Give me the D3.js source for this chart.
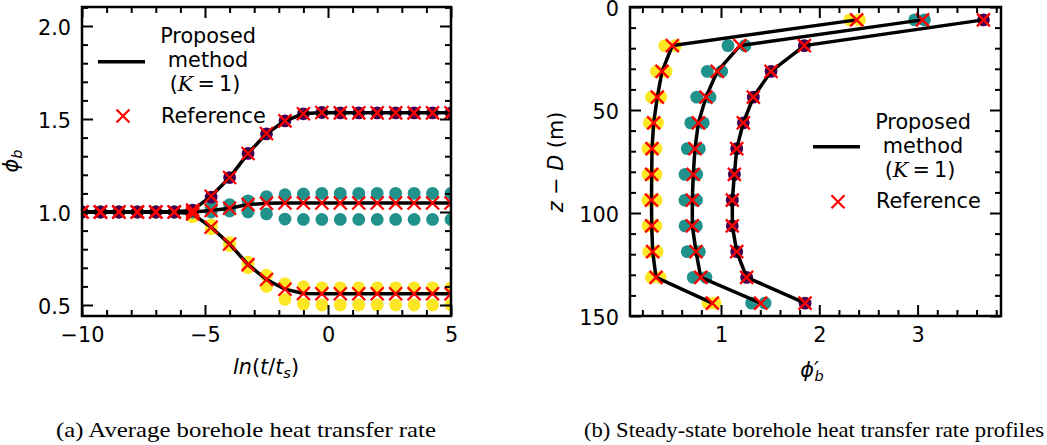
<!DOCTYPE html>
<html>
<head>
<meta charset="utf-8">
<script src="https://cdnjs.cloudflare.com/ajax/libs/d3/7.8.5/d3.min.js"></script>
<style>
  body { margin: 0; background: #fff; }
  svg { display: block; }
  text { font-family: "DejaVu Sans", sans-serif; fill: #000; }
  .caption { font-family: "Liberation Serif", serif; }
</style>
</head>
<body>
<div class="chart"></div>
<script>
/* Data
============================================= */
// (a) average borehole heat transfer rate vs ln(t/ts)
const lnTime = [-10, -9.25, -8.5, -7.75, -7, -6.25, -5.5, -4.75, -4, -3.25, -2.5,
                -1.75, -1, -0.25, 0.5, 1.25, 2, 2.75, 3.5, 4.25, 5];

const purpleLine = [1.0, 1.0, 1.0, 1.0, 1.0, 1.0, 1.01, 1.085, 1.185, 1.315, 1.422,
                    1.49, 1.528, 1.535, 1.533, 1.533, 1.533, 1.533, 1.533, 1.533, 1.533];
const purpleDots = [1.0, 1.0, 1.0, 1.0, 1.0, 1.0, 1.01, 1.08, 1.185, 1.315, 1.42,
                    1.49, 1.528, 1.535, 1.533, 1.533, 1.533, 1.533, 1.533, 1.533, 1.533];

const tealLine = [1.0, 1.0, 1.0, 1.0, 1.0, 1.0, 1.0, 1.008, 1.02, 1.04, 1.047,
                  1.048, 1.048, 1.048, 1.048, 1.048, 1.048, 1.048, 1.048, 1.048, 1.048];
const tealDotsHigh = [1.0, 1.0, 1.0, 1.0, 1.0, 1.0, 1.0, 1.03, 1.04, 1.06, 1.083,
                      1.093, 1.097, 1.1, 1.1, 1.1, 1.1, 1.1, 1.1, 1.1, 1.1];
const tealDotsLow = [1.0, 1.0, 1.0, 1.0, 1.0, 1.0, 1.0, 1.0, 1.005, 1.0, 0.99,
                     0.962, 0.96, 0.96, 0.96, 0.96, 0.96, 0.96, 0.96, 0.96, 0.96];

const yellowLine = [1.0, 1.0, 1.0, 1.0, 1.0, 1.0, 0.99, 0.918, 0.828, 0.717, 0.637,
                    0.585, 0.562, 0.56, 0.56, 0.56, 0.56, 0.56, 0.56, 0.56, 0.56];
const yellowDotsHigh = [1.0, 1.0, 1.0, 1.0, 1.0, 1.0, 0.985, 0.93, 0.835, 0.73, 0.66,
                        0.615, 0.598, 0.592, 0.592, 0.592, 0.592, 0.592, 0.592, 0.592, 0.592];
const yellowDotsLow = [1.0, 1.0, 1.0, 1.0, 1.0, 1.0, 0.975, 0.91, 0.82, 0.70, 0.60,
                       0.53, 0.505, 0.50, 0.50, 0.50, 0.50, 0.50, 0.50, 0.50, 0.50];

// (b) steady-state profiles vs depth z - D (m)
const depth = [6.25, 18.75, 31.25, 43.75, 56.25, 68.75, 81.25, 93.75, 106.25, 118.75, 131.25, 143.75];

const purpleProfile = [3.67, 1.848, 1.509, 1.329, 1.227, 1.16, 1.136, 1.115, 1.115, 1.16, 1.261, 1.855];

const tealProfile = [3.05, 1.193, 0.962, 0.847, 0.77, 0.735, 0.718, 0.708, 0.708, 0.746, 0.794, 1.404];
const tealProfileLow = [2.97, 1.071, 0.861, 0.753, 0.692, 0.657, 0.634, 0.634, 0.634, 0.657, 0.718, 1.312];
const tealProfileHigh = [3.07, 1.244, 1.007, 0.888, 0.82, 0.78, 0.753, 0.75, 0.75, 0.78, 0.847, 1.448];

const yellowProfile = [2.38, 0.505, 0.40, 0.352, 0.315, 0.298, 0.295, 0.293, 0.295, 0.305, 0.339, 0.912];
const yellowProfileLow = [2.31, 0.428, 0.344, 0.293, 0.27, 0.257, 0.257, 0.257, 0.257, 0.265, 0.293, 0.868];
const yellowProfileHigh = [2.41, 0.537, 0.442, 0.385, 0.354, 0.339, 0.339, 0.339, 0.339, 0.35, 0.381, 0.939];

// ticks
const ticksAxMajor = [-10, -5, 0, 5];
const ticksAxMinor = [-9, -8, -7, -6, -4, -3, -2, -1, 1, 2, 3, 4];
const ticksAyMajor = [0.5, 1.0, 1.5, 2.0];
const ticksAyMinor = [0.6, 0.7, 0.8, 0.9, 1.1, 1.2, 1.3, 1.4, 1.6, 1.7, 1.8, 1.9, 2.1];
const ticksBxMajor = [1, 2, 3];
const ticksBxMinor = [0.2, 0.4, 0.6, 0.8, 1.2, 1.4, 1.6, 1.8, 2.2, 2.4, 2.6, 2.8, 3.2, 3.4, 3.6, 3.8];
const ticksByMajor = [0, 50, 100, 150];
const ticksByMinor = [10, 20, 30, 40, 60, 70, 80, 90, 110, 120, 130, 140];

/* Constants
============================================= */
const SVG_WIDTH = 1047;
const SVG_HEIGHT = 445;
const FONT = 20.8;
const PURPLE = "#440154";
const TEAL = "#21918c";
const YELLOW = "#fde725";
const RED = "#ff0000";
const DOT_R = 6.4;
const CROSS = "M-6.5,-6.5L6.5,6.5M-6.5,6.5L6.5,-6.5";

var svg = d3.select(".chart")
    .append("svg")
    .attr("width", SVG_WIDTH)
    .attr("height", SVG_HEIGHT);

svg.append("rect")
    .attr("width", SVG_WIDTH)
    .attr("height", SVG_HEIGHT)
    .attr("fill", "#fff");

/* Functions
============================================= */

// frame with inward major/minor ticks on all four sides
function drawFrame(g, x, y, xMaj, xMin, yMaj, yMin, xFmt, yFmt) {
    var w = x.range()[1] - x.range()[0];
    var h = Math.abs(y.range()[0] - y.range()[1]);
    var top = Math.min(y.range()[0], y.range()[1]);
    var bottom = Math.max(y.range()[0], y.range()[1]);

    var axes = [
        [d3.axisBottom(x).tickValues(xMaj).tickSize(-11).tickPadding(11).tickFormat(xFmt), `translate(0,${bottom})`],
        [d3.axisBottom(x).tickValues(xMin).tickSize(-6).tickFormat(""), `translate(0,${bottom})`],
        [d3.axisTop(x).tickValues(xMaj).tickSize(-11).tickFormat(""), `translate(0,${top})`],
        [d3.axisTop(x).tickValues(xMin).tickSize(-6).tickFormat(""), `translate(0,${top})`],
        [d3.axisLeft(y).tickValues(yMaj).tickSize(-11).tickPadding(11).tickFormat(yFmt), `translate(${x.range()[0]},0)`],
        [d3.axisLeft(y).tickValues(yMin).tickSize(-6).tickFormat(""), `translate(${x.range()[0]},0)`],
        [d3.axisRight(y).tickValues(yMaj).tickSize(-11).tickFormat(""), `translate(${x.range()[1]},0)`],
        [d3.axisRight(y).tickValues(yMin).tickSize(-6).tickFormat(""), `translate(${x.range()[1]},0)`]
    ];

    axes.forEach(function(a, k) {
        var ax = g.append("g")
            .attr("transform", a[1])
            .call(a[0].tickSizeOuter(0));
        ax.select(".domain").remove();
        ax.selectAll("line").attr("stroke", "#000").attr("stroke-width", 2);
        ax.selectAll("text")
            .attr("fill", "#000")
            .style("font-family", "DejaVu Sans")
            .style("font-size", FONT + "px");
        if (k === 4) ax.selectAll("text").attr("dy", "0.4em");
    });

    g.append("rect")
        .attr("x", x.range()[0])
        .attr("y", top)
        .attr("width", w)
        .attr("height", h)
        .attr("fill", "none")
        .attr("stroke", "#000")
        .attr("stroke-width", 2.5);
}

function drawLegend(g, lx, ly, tx, tyTop, cy, refY) {
    g.append("line")
        .attr("x1", lx).attr("x2", lx + 47)
        .attr("y1", ly).attr("y2", ly)
        .attr("stroke", "#000")
        .attr("stroke-width", 3.5);

    var label = g.append("text")
        .attr("text-anchor", "middle")
        .style("font-size", FONT + "px");
    label.append("tspan").attr("x", tx).attr("y", tyTop).text("Proposed");
    label.append("tspan").attr("x", tx).attr("y", tyTop + 23.8).text("method");
    var l3 = label.append("tspan").attr("x", tx - 3).attr("y", tyTop + 47.6);
    l3.append("tspan").text("(");
    l3.append("tspan").style("font-style", "italic").style("font-family", "DejaVu Serif").text("K");
    l3.append("tspan").text("\u2009=\u20091)");

    g.append("path")
        .attr("d", CROSS)
        .attr("transform", `translate(${lx + 25},${cy})`)
        .attr("fill", "none")
        .attr("stroke", RED)
        .attr("stroke-width", 2.2);

    g.append("text")
        .attr("x", tx - 47)
        .attr("y", refY)
        .style("font-size", FONT + "px")
        .text("Reference");
}

/* Panel (a)
============================================= */
var xA = d3.scaleLinear().domain([-10, 5]).range([82, 451]);
var yA = d3.scaleLinear().domain([0.5, 2.0]).range([305, 26]);
// extend range to frame edges
yA.domain([yA.invert(316), yA.invert(7)]).range([316, 7]);

var gA = svg.append("g");

gA.append("clipPath").attr("id", "clipA")
    .append("rect").attr("x", 82).attr("y", 7).attr("width", 369).attr("height", 309);

var plotA = gA.append("g").attr("clip-path", "url(#clipA)");

[[yellowDotsLow, YELLOW], [yellowDotsHigh, YELLOW],
 [tealDotsLow, TEAL], [tealDotsHigh, TEAL],
 [purpleDots, PURPLE]].forEach(function(s) {
    plotA.append("g").selectAll("circle")
        .data(s[0])
        .enter()
        .append("circle")
        .attr("cx", function(d, i) { return xA(lnTime[i]); })
        .attr("cy", function(d) { return yA(d); })
        .attr("r", DOT_R)
        .attr("fill", s[1]);
});

var lineA = d3.line()
    .x(function(d, i) { return xA(lnTime[i]); })
    .y(function(d) { return yA(d); });

[purpleLine, tealLine, yellowLine].forEach(function(s) {
    plotA.append("path")
        .attr("d", lineA(s))
        .attr("fill", "none")
        .attr("stroke", "#000")
        .attr("stroke-width", 3.5);
});

[purpleLine, tealLine, yellowLine].forEach(function(s) {
    plotA.append("g").selectAll("path")
        .data(s)
        .enter()
        .append("path")
        .attr("d", CROSS)
        .attr("transform", function(d, i) { return `translate(${xA(lnTime[i])},${yA(d)})`; })
        .attr("fill", "none")
        .attr("stroke", RED)
        .attr("stroke-width", 2.2);
});

drawFrame(gA, xA, yA, ticksAxMajor, ticksAxMinor, ticksAyMajor, ticksAyMinor,
    d3.format("d"), d3.format(".1f"));

drawLegend(gA, 98, 61.7, 208, 43.3, 116, 123.3);

var xlabA = gA.append("text")
    .attr("x", 266)
    .attr("y", 374)
    .attr("text-anchor", "middle")
    .style("font-size", FONT + "px");
xlabA.append("tspan").style("font-style", "italic").text("ln");
xlabA.append("tspan").text("(");
xlabA.append("tspan").style("font-style", "italic").text("t");
xlabA.append("tspan").text("/");
xlabA.append("tspan").style("font-style", "italic").text("t");
xlabA.append("tspan").style("font-style", "italic").style("font-size", "14.5px").attr("dy", 4).text("s");
xlabA.append("tspan").attr("dy", -4).text(")");

var ylabA = gA.append("text")
    .attr("transform", "translate(18,161) rotate(-90)")
    .attr("text-anchor", "middle")
    .style("font-size", FONT + "px");
ylabA.append("tspan").style("font-style", "italic").text("\u03d5");
ylabA.append("tspan").style("font-style", "italic").style("font-size", "14.5px").attr("dy", 4).text("b");

/* Panel (b)
============================================= */
var xB = d3.scaleLinear().domain([1, 3]).range([721, 917.6]);
xB.domain([xB.invert(630), xB.invert(1001)]).range([630, 1001]);
var yB = d3.scaleLinear().domain([0, 150]).range([7, 316]);

var gB = svg.append("g");

gB.append("clipPath").attr("id", "clipB")
    .append("rect").attr("x", 630).attr("y", 7).attr("width", 371).attr("height", 309);

var plotB = gB.append("g").attr("clip-path", "url(#clipB)");

[[yellowProfileLow, YELLOW], [yellowProfileHigh, YELLOW],
 [tealProfileLow, TEAL], [tealProfileHigh, TEAL],
 [purpleProfile, PURPLE]].forEach(function(s) {
    plotB.append("g").selectAll("circle")
        .data(s[0])
        .enter()
        .append("circle")
        .attr("cx", function(d) { return xB(d); })
        .attr("cy", function(d, i) { return yB(depth[i]); })
        .attr("r", DOT_R)
        .attr("fill", s[1]);
});

var lineB = d3.line()
    .x(function(d) { return xB(d); })
    .y(function(d, i) { return yB(depth[i]); });

[purpleProfile, tealProfile, yellowProfile].forEach(function(s) {
    plotB.append("path")
        .attr("d", lineB(s))
        .attr("fill", "none")
        .attr("stroke", "#000")
        .attr("stroke-width", 3.5);
});

[purpleProfile, tealProfile, yellowProfile].forEach(function(s) {
    plotB.append("g").selectAll("path")
        .data(s)
        .enter()
        .append("path")
        .attr("d", CROSS)
        .attr("transform", function(d, i) { return `translate(${xB(d)},${yB(depth[i])})`; })
        .attr("fill", "none")
        .attr("stroke", RED)
        .attr("stroke-width", 2.2);
});

drawFrame(gB, xB, yB, ticksBxMajor, ticksBxMinor, ticksByMajor, ticksByMinor,
    d3.format("d"), d3.format("d"));

drawLegend(gB, 813, 146.7, 923, 129.3, 201.7, 208.3);

var xlabB = gB.append("text")
    .attr("x", 812)
    .attr("y", 377)
    .attr("text-anchor", "middle")
    .style("font-size", FONT + "px");
xlabB.append("tspan").style("font-style", "italic").text("\u03d5\u2032");
xlabB.append("tspan").style("font-style", "italic").style("font-size", "14.5px")
    .attr("dx", -4).attr("dy", 4).text("b");

var ylabB = gB.append("text")
    .attr("transform", "translate(563,162) rotate(-90)")
    .attr("text-anchor", "middle")
    .style("font-size", FONT + "px");
ylabB.append("tspan").style("font-style", "italic").text("z");
ylabB.append("tspan").text(" \u2212 ");
ylabB.append("tspan").style("font-style", "italic").text("D");
ylabB.append("tspan").text(" (m)");

/* Captions
============================================= */
svg.append("text")
    .attr("class", "caption")
    .attr("x", 246)
    .attr("y", 437)
    .attr("text-anchor", "middle")
    .attr("textLength", 380)
    .attr("lengthAdjust", "spacingAndGlyphs")
    .style("font-size", "21px")
    .text("(a) Average borehole heat transfer rate");

svg.append("text")
    .attr("class", "caption")
    .attr("x", 814)
    .attr("y", 437)
    .attr("text-anchor", "middle")
    .attr("textLength", 460)
    .attr("lengthAdjust", "spacingAndGlyphs")
    .style("font-size", "21px")
    .text("(b) Steady-state borehole heat transfer rate profiles");
</script>
</body>
</html>
